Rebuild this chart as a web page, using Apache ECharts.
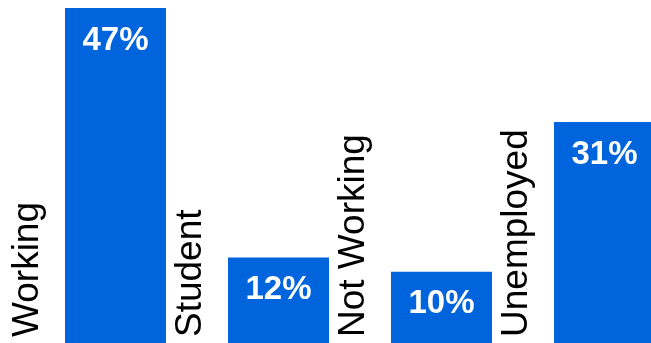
<!DOCTYPE html>
<html>
<head>
<meta charset="utf-8">
<script src="https://cdn.jsdelivr.net/npm/echarts@6/dist/echarts.min.js"></script>
<style>
html,body{margin:0;padding:0;background:#fff;}
#c{width:651px;height:343px;}
</style>
</head>
<body>
<div id="c"></div>
<script>
const categories = ["Working", "Student", "Not Working", "Unemployed"];
const values = [47, 12, 10, 31];

const chart = echarts.init(document.getElementById('c'), null, {renderer: 'canvas'});
chart.setOption({
  animation: false,
  backgroundColor: '#ffffff',
  grid: {left: 34, right: -35, top: 8, bottom: 0, containLabel: false, outerBoundsMode: 'none'},
  xAxis: {
    type: 'category',
    data: categories,
    axisLine: {show: false},
    axisTick: {show: false},
    axisLabel: {show: false},
    splitLine: {show: false}
  },
  yAxis: {
    type: 'value',
    min: 0,
    max: 47,
    show: false,
    splitLine: {show: false}
  },
  series: [
    {
      type: 'bar',
      data: values,
      barWidth: 101,
      itemStyle: {color: '#0064DC'},
      label: {
        show: true,
        position: 'insideTop',
        distance: 16,
        formatter: '{c}%',
        color: '#ffffff',
        fontFamily: 'Liberation Sans, Arial, sans-serif',
        fontWeight: 'bold',
        fontSize: 33
      },
      z: 2
    },
    {
      type: 'bar',
      data: values,
      barWidth: 101,
      barGap: '-100%',
      itemStyle: {color: 'rgba(0,0,0,0)'},
      label: {
        show: true,
        position: 'insideBottom',
        rotate: 90,
        align: 'left',
        verticalAlign: 'middle',
        distance: 6,
        offset: [0, -88],
        formatter: '{b}',
        color: '#000000',
        fontFamily: 'Liberation Sans, Arial, sans-serif',
        fontSize: 37
      },
      z: 3
    }
  ]
});
</script>
</body>
</html>
